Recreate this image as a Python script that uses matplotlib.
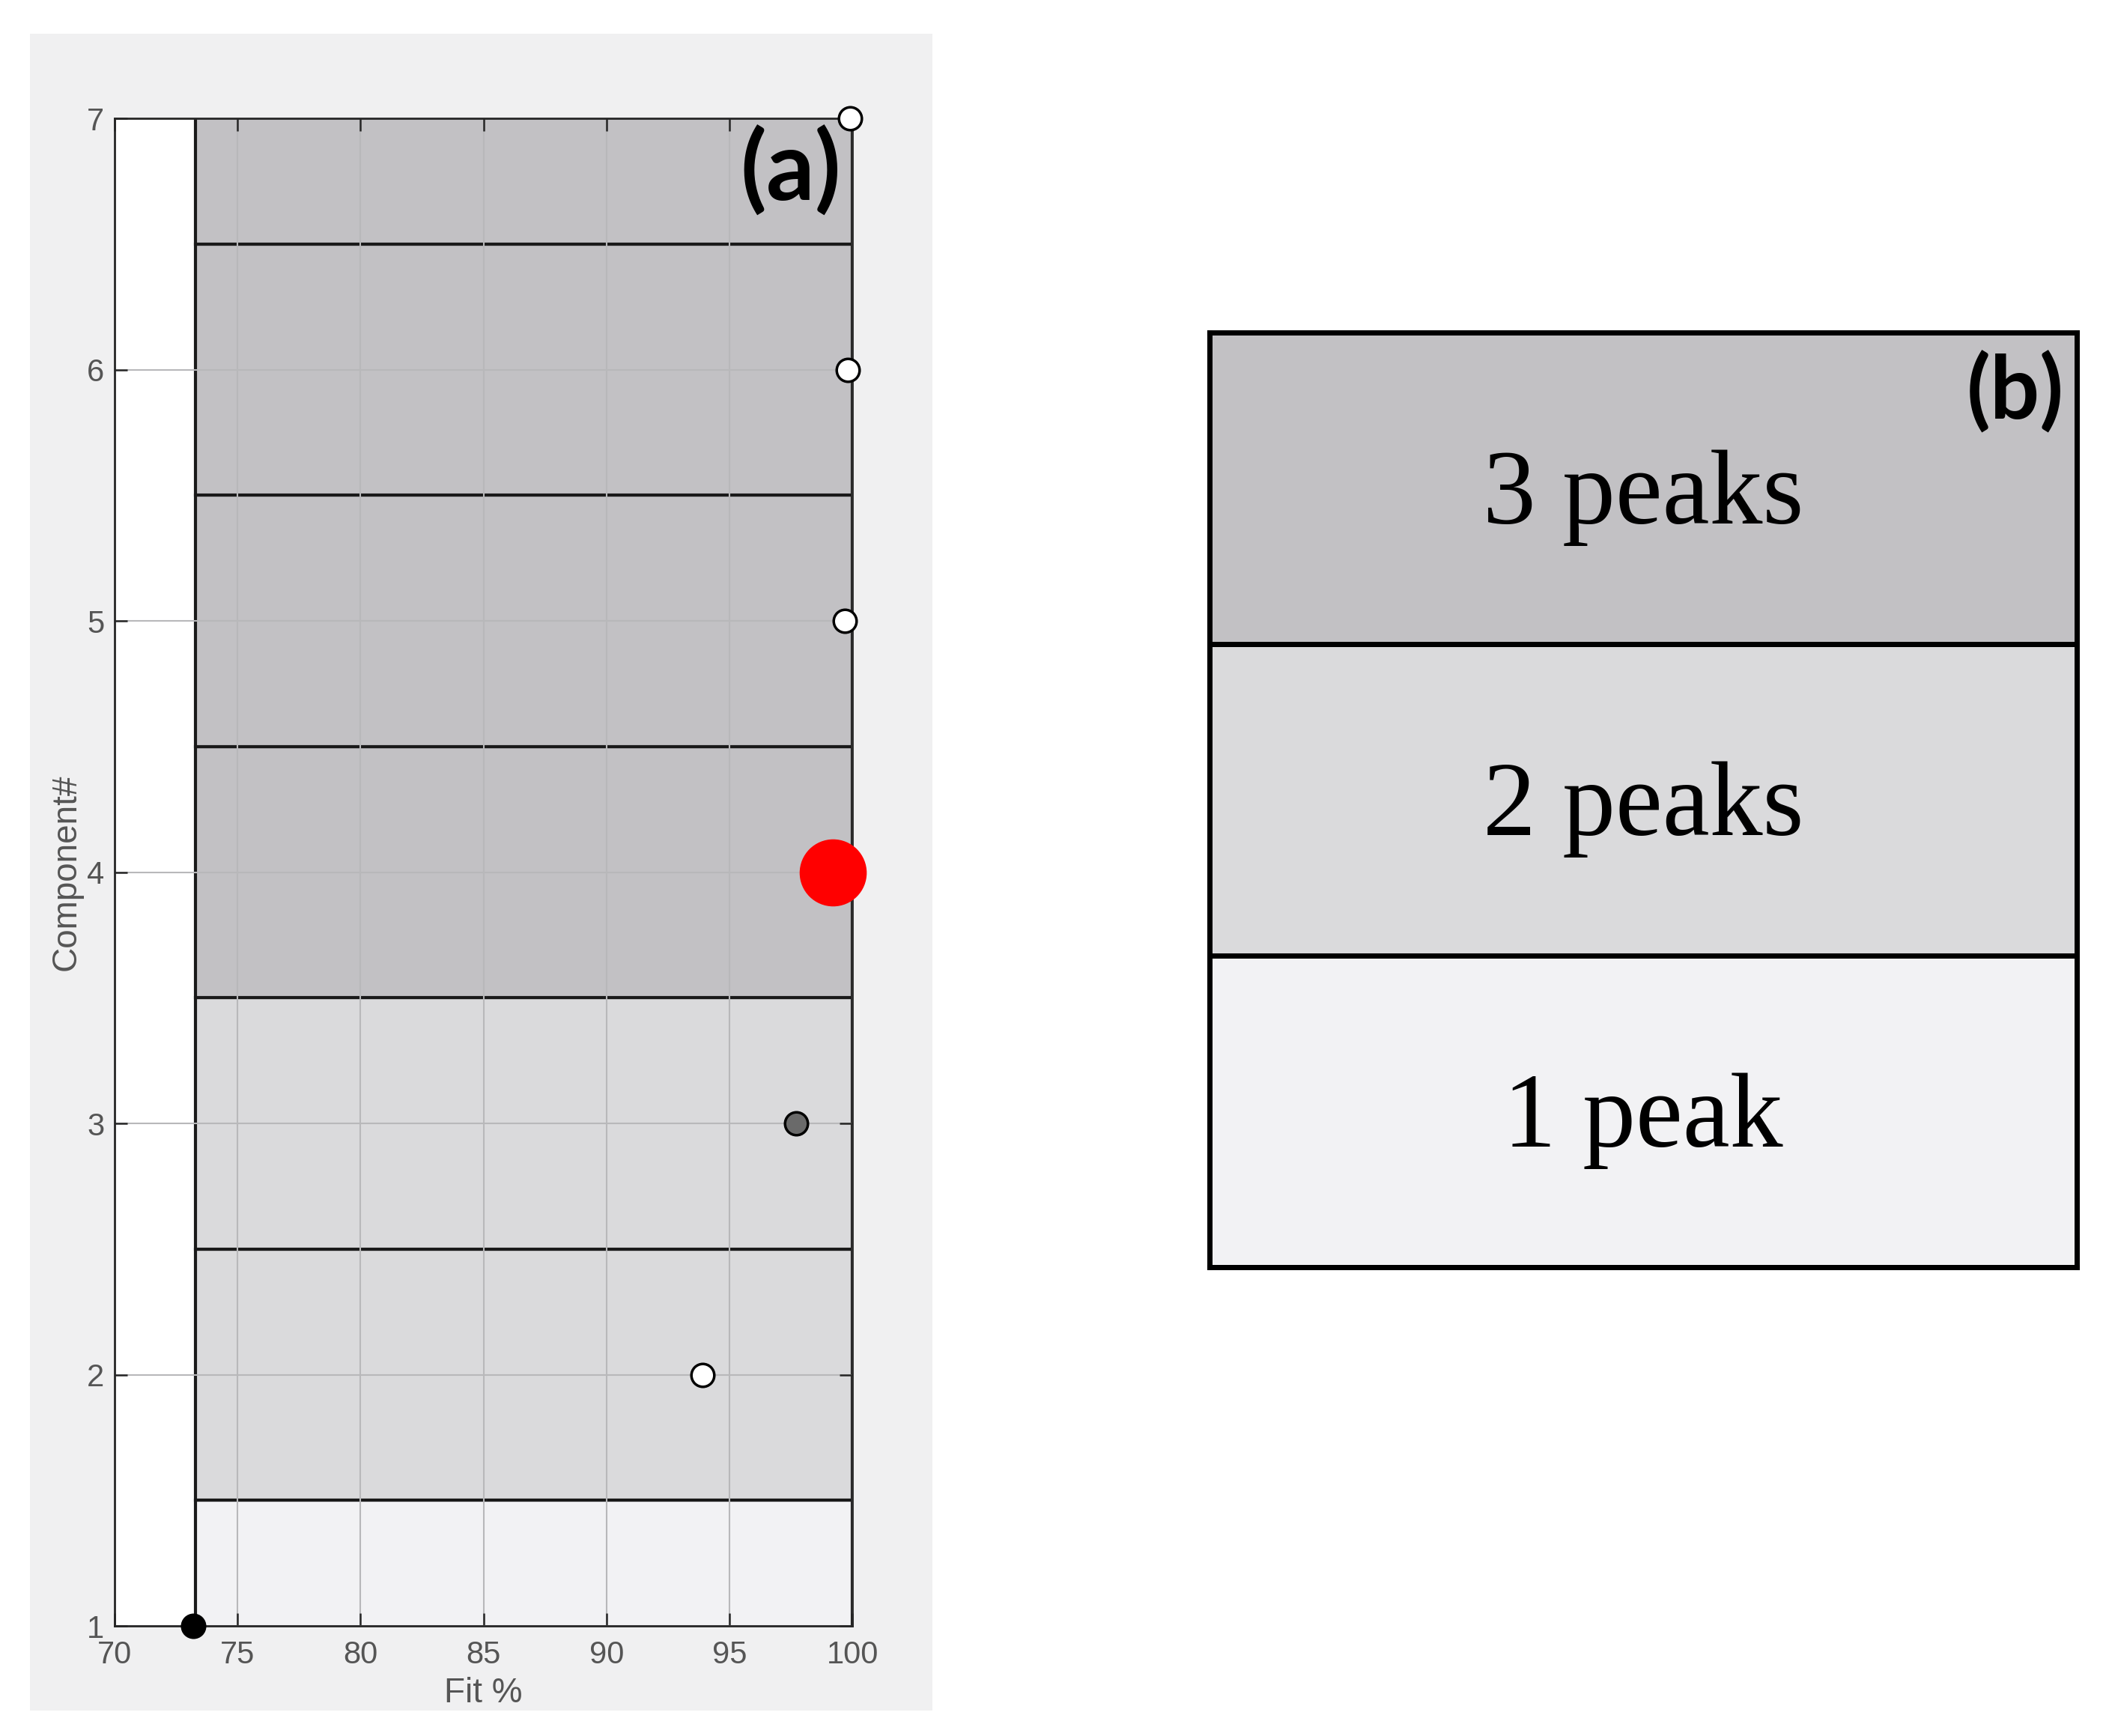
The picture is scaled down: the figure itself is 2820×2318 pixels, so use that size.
import matplotlib.pyplot as plt
from matplotlib.patches import Rectangle

# panel (a) data
components = [1, 2, 3, 4, 5, 6, 7]
fit_pct = [73.2, 93.9, 97.7, 99.2, 99.7, 99.8, 99.9]
n_peaks = [1, 2, 2, 3, 3, 3, 3]
face_colors = ['black', 'white', '#6a6a6a', '#ff0000', 'white', 'white', 'white']
marker_sizes = [22, 22, 22, 62, 22, 22, 22]
band_start = 73.3

# panel (b) data
peak_labels = ['1 peak', '2 peaks', '3 peaks']
peak_colors = {1: '#f2f2f4', 2: '#dadadc', 3: '#c2c1c4'}

tick_font = ['Liberation Sans Narrow', 'Liberation Sans', 'DejaVu Sans']

fig = plt.figure(figsize=(28.2, 23.18), dpi=100)
fig.patches.append(Rectangle((0.0142, 0.0147), 0.4273, 0.9659, transform=fig.transFigure,
                             facecolor='#f0f0f1', edgecolor='none', zorder=-10))

ax = fig.add_axes([0.0543, 0.0634, 0.3493, 0.8684])
ax.set_facecolor('white')

band_cols = [peak_colors[p] for p in n_peaks]
ax.barh(components, [100 - band_start] * len(components), left=band_start, height=1,
        color=band_cols, edgecolor='#1a1a1a', linewidth=3, zorder=1)

for x, y, fc, ms in zip(fit_pct, components, face_colors, marker_sizes):
    ec = '#ff0000' if fc == '#ff0000' else 'black'
    ax.plot(x, y, 'o', markersize=ms, markerfacecolor=fc, markeredgecolor=ec,
            markeredgewidth=2.5, clip_on=False, zorder=5)

ax.set_xlim(70, 100)
ax.set_ylim(1, 7)
ax.set_xticks(range(70, 101, 5))
ax.set_yticks(range(1, 8))
ax.grid(True, color='#b8b8ba', linewidth=1.5)
ax.tick_params(direction='in', length=12, width=1.8, colors='#262626',
               labelcolor='#555555', labelsize=30, top=True, right=True, pad=10)
ax.tick_params(axis='x', pad=14)
for lab in ax.get_xticklabels() + ax.get_yticklabels():
    lab.set_family(tick_font)
for sp in ax.spines.values():
    sp.set_color('#262626')
    sp.set_linewidth(2)
ax.set_xlabel('Fit %', family=tick_font, fontsize=33, color='#555555', labelpad=6)
ax.set_ylabel('Component#', family=tick_font, fontsize=33, color='#555555', labelpad=4)
ax.text(0.985, 0.995, '(a)', transform=ax.transAxes, ha='right', va='top',
        family=['Lato', 'DejaVu Sans'], fontweight='bold', fontsize=92, color='black', zorder=6)

# panel (b)
bx = fig.add_axes([0.5727, 0.2701, 0.4106, 0.5384])
for i, lab in enumerate(peak_labels):
    bx.barh(i, 1, left=0, height=1, color=peak_colors[i + 1], edgecolor='black', linewidth=5)
    bx.text(0.5, i - 0.03, lab, ha='center', va='center', family=['Liberation Serif', 'DejaVu Serif'],
            fontsize=102, color='black')
bx.set_xlim(0, 1)
bx.set_ylim(-0.5, 2.5)
bx.set_xticks([])
bx.set_yticks([])
for sp in bx.spines.values():
    sp.set_linewidth(5)
    sp.set_color('black')
bx.text(0.985, 0.98, '(b)', transform=bx.transAxes, ha='right', va='top',
        family=['Lato', 'DejaVu Sans'], fontweight='bold', fontsize=84, color='black')

fig.savefig('out.png', dpi=100, facecolor='white')
